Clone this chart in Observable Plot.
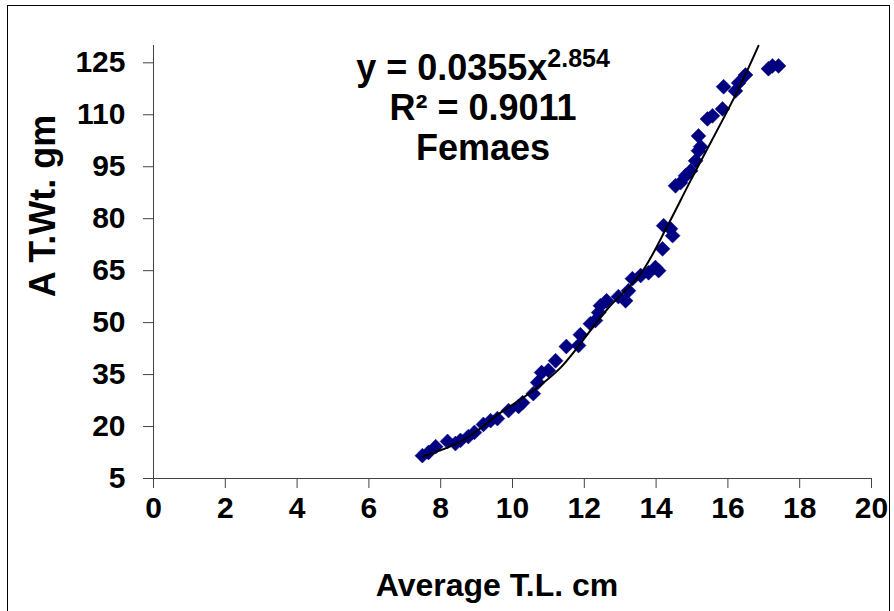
<!DOCTYPE html>
<html>
<head>
<meta charset="utf-8">
<script src="https://cdn.jsdelivr.net/npm/d3@7"></script>
<script src="https://cdn.jsdelivr.net/npm/@observablehq/plot@0.6"></script>
<style>
  body { margin: 0; background: #fff; }
  #wrap { position: relative; width: 894px; height: 611px; overflow: hidden; font-family: "Liberation Sans", Arial, sans-serif; font-weight: bold; color: #000; }
  #border { position: absolute; left: 7px; top: 5px; width: 883px; height: 640px; border: 1px solid #000; box-sizing: border-box; }
  .lbl { position: absolute; white-space: nowrap; }
  #eq { left: 283px; top: 48px; width: 400px; text-align: center; font-size: 36px; line-height: 40px; }
  #eq sup { font-size: 25px; vertical-align: 0; position: relative; top: -13px; line-height: 0; }
  #xt { left: 297px; width: 400px; top: 567px; text-align: center; font-size: 32px; line-height: 36px; }
  #yt { left: 43px; top: 206px; font-size: 36px; line-height: 40px; transform: translate(-50%, -50%) rotate(-90deg); }
</style>
</head>
<body>
<div id="wrap">
  <div id="border"></div>
  <div id="chart"></div>
  <div class="lbl" id="eq">y = 0.0355x<sup>2.854</sup><br>R² = 0.9011<br>Femaes</div>
  <div class="lbl" id="xt">Average T.L. cm</div>
  <div class="lbl" id="yt">A T.Wt. gm</div>
</div>
<script>
// Observed points: average total length (cm) vs weight (gm)
const tl = [7.49,7.66,7.86,8.19,8.41,8.55,8.77,8.94,9.19,9.39,9.58,9.89,10.17,10.28,10.58,10.70,10.81,11.00,11.20,11.50,11.84,11.89,12.17,12.31,12.40,12.45,12.62,12.95,13.15,13.23,13.34,13.57,13.79,13.98,14.07,14.18,14.21,14.40,14.46,14.54,14.68,14.82,14.96,15.10,15.18,15.24,15.18,15.43,15.57,15.85,15.88,16.21,16.30,16.49,17.13,17.24,17.41];
const wt = [11.6,12.5,14.2,15.7,15.1,16.0,17.1,18.3,20.6,21.7,22.3,24.6,25.8,26.9,29.5,32.7,35.6,36.2,39.0,43.1,43.4,46.5,49.7,50.6,52.9,54.9,56.3,57.5,56.3,59.2,62.7,63.6,64.4,65.9,65.0,71.3,78.0,77.1,75.1,89.5,90.4,92.4,93.8,96.7,99.6,100.8,103.9,108.8,109.7,111.7,118.1,116.9,119.2,121.5,123.3,124.1,124.1];
// Trend line as drawn in the picture
const trendX = [7.49,8.61,9.67,10.58,11.34,12.65,13.57,14.35,14.96,16.27,16.85];
const trendY = [11.35,15.96,24.0,30.4,37.0,54.0,64.1,78.6,91.0,116.9,129.9];
// Axis ticks
const xTicks = [0,2,4,6,8,10,12,14,16,18,20];
const yTicks = [5,20,35,50,65,80,95,110,125];

const pts = tl.map((x, i) => ({x, y: wt[i]}));
const trend = trendX.map((x, i) => ({x, y: trendY[i]}));

const chart = Plot.plot({
  width: 894,
  height: 611,
  marginLeft: 153,
  marginRight: 23,
  marginTop: 45,
  marginBottom: 133,
  style: { fontFamily: "'Liberation Sans', Arial, sans-serif", fontSize: "30px", fontWeight: "bold", color: "#000", background: "transparent", overflow: "visible" },
  x: { domain: [0, 20] },
  y: { domain: [5, 130] },
  marks: [
    Plot.axisX({ ticks: xTicks, tickSize: 10, tickPadding: 8, label: null, stroke: "#444" }),
    Plot.axisY({ ticks: yTicks, tickSize: 10, tickPadding: 18, label: null, stroke: "#444" }),
    Plot.ruleX([0], { y1: 5, y2: 130, stroke: "#444", strokeWidth: 1 }),
    Plot.ruleY([5], { x1: 0, x2: 20, stroke: "#444", strokeWidth: 1 }),
    Plot.dot(pts, { x: "x", y: "y", symbol: "diamond2", r: 6.7, fill: "#000080", stroke: "#000080", strokeWidth: 0.5 }),
    Plot.line(trend, { x: "x", y: "y", curve: "catmull-rom", stroke: "#000", strokeWidth: 2 })
  ]
});
document.getElementById("chart").appendChild(chart);
</script>
</body>
</html>
